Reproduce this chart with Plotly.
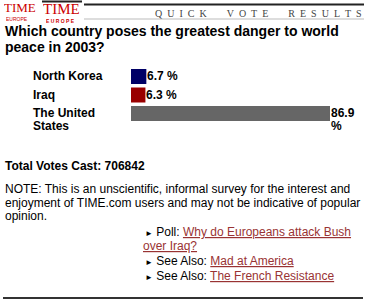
import plotly.graph_objects as go

W, H = 369, 300

# ---- data ----
countries = ["North Korea", "Iraq", "The United States"]
country_lines = [["North Korea"], ["Iraq"], ["The United", "States"]]
values = [6.7, 6.3, 86.9]
value_lines = [["6.7 %"], ["6.3 %"], ["86.9", "%"]]
bar_colors = ["#000066", "#990000", "#666666"]

title_lines = ["Which country poses the greatest danger to world", "peace in 2003?"]
total_votes = 706842
note_lines = [
    "NOTE: This is an unscientific, informal survey for the interest and",
    "enjoyment of TIME.com users and may not be indicative of popular",
    "opinion.",
]
links = [
    ("Poll: ", ["Why do Europeans attack Bush", "over Iraq?"]),
    ("See Also: ", ["Mad at America"]),
    ("See Also: ", ["The French Resistance"]),
]
header_words = ["QUICK", "VOTE", "RESULTS"]

FONT = "Liberation Sans, Arial, sans-serif"
SERIF = "Liberation Serif, Times New Roman, serif"
LINK = "#993333"
EN = "\u2002"


def px(x):
    return x / W


def py(y):
    return 1 - y / H


fig = go.Figure()
fig.add_trace(go.Bar(
    y=countries, x=values, orientation="h",
    marker=dict(color=bar_colors, line=dict(width=0)),
    width=0.81, hoverinfo="skip",
))

ann = []


def text(x, y, t, size=12, bold=False, color="black", family=FONT, xanchor="left", height=None):
    if bold:
        t = "<b>" + t + "</b>"
    a = dict(x=px(x), y=py(y), xref="paper", yref="paper", text=t,
             showarrow=False, xanchor=xanchor, yanchor="middle",
             font=dict(size=size, color=color, family=family))
    if height is not None:
        a["height"] = height
        a["borderpad"] = 0
    ann.append(a)


# logos
text(3, 8, "TIME", size=13, color="#cc0000", family=SERIF, height=11)
text(5, 18.3, "<u>EUROPE</u>", size=5, color="#cc0000", family=FONT, height=5)
text(42, 8.8, "TIME", size=15, color="#cc0000", family=SERIF, height=12)
text(45, 20.1, "<b>E U R O P E</b>", size=5, color="#cc0000", family=FONT, height=5)
header = (EN * 4).join(EN.join(w) for w in header_words)
text(364, 14, header, size=10, color="#444444", family=SERIF, xanchor="right")

# title
for i, t in enumerate(title_lines):
    text(3, 31 + 16 * i, t, size=14, bold=True)

# category and value labels
for c, lines in zip(countries, country_lines):
    for j, t in enumerate(lines):
        ann.append(dict(x=px(31), y=c, xref="paper", yref="y", text="<b>" + t + "</b>",
                        showarrow=False, xanchor="left", yanchor="middle", yshift=-13 * j,
                        font=dict(size=12, family=FONT, color="black")))
for c, v, vlines in zip(countries, values, value_lines):
    for j, t in enumerate(vlines):
        ann.append(dict(x=v, y=c, xref="x", yref="y", text="<b>" + t + "</b>",
                        showarrow=False, xanchor="left", yanchor="middle", yshift=-13 * j,
                        xshift=-1, font=dict(size=12, family=FONT, color="black")))

text(3, 166, f"Total Votes Cast: {total_votes}", size=12, bold=True)
for i, t in enumerate(note_lines):
    text(3, 189 + 13.5 * i, t, size=12)

ys = [232, 246, 261, 276]
k = 0
for label, parts in links:
    for j, p in enumerate(parts):
        link = f"<span style='color:{LINK}'><u>{p}</u></span>"
        if j == 0:
            t = f"<span style='font-size:8px'>►</span> {label}{link}"
            text(143, ys[k], t, size=12)
        else:
            text(141, ys[k], link, size=12)
        k += 1

shapes = [
    dict(type="line", xref="paper", yref="paper", x0=px(84), x1=px(364), y0=py(4.5), y1=py(4.5),
         line=dict(color="#222222", width=2)),
    dict(type="line", xref="paper", yref="paper", x0=px(84), x1=px(364), y0=py(19), y1=py(19),
         line=dict(color="#bbbbbb", width=1)),
    dict(type="line", xref="paper", yref="paper", x0=px(42), x1=px(82), y0=py(1.5), y1=py(1.5),
         line=dict(color="#222222", width=2)),
    dict(type="line", xref="paper", yref="paper", x0=px(3), x1=px(363), y0=py(298), y1=py(298),
         line=dict(color="#333333", width=2)),
]

fig.update_layout(
    width=W, height=H, margin=dict(l=0, r=0, t=0, b=0),
    paper_bgcolor="white", plot_bgcolor="white",
    showlegend=False, annotations=ann, shapes=shapes,
    xaxis=dict(domain=[px(131), px(330)], range=[0, 86.9], visible=False, fixedrange=True),
    yaxis=dict(domain=[py(122.75), py(67.25)], range=[2.5, -0.5], type="category",
               categoryorder="array", categoryarray=countries, visible=False, fixedrange=True),
)

fig.write_html("out.html", config={"displayModeBar": False})
